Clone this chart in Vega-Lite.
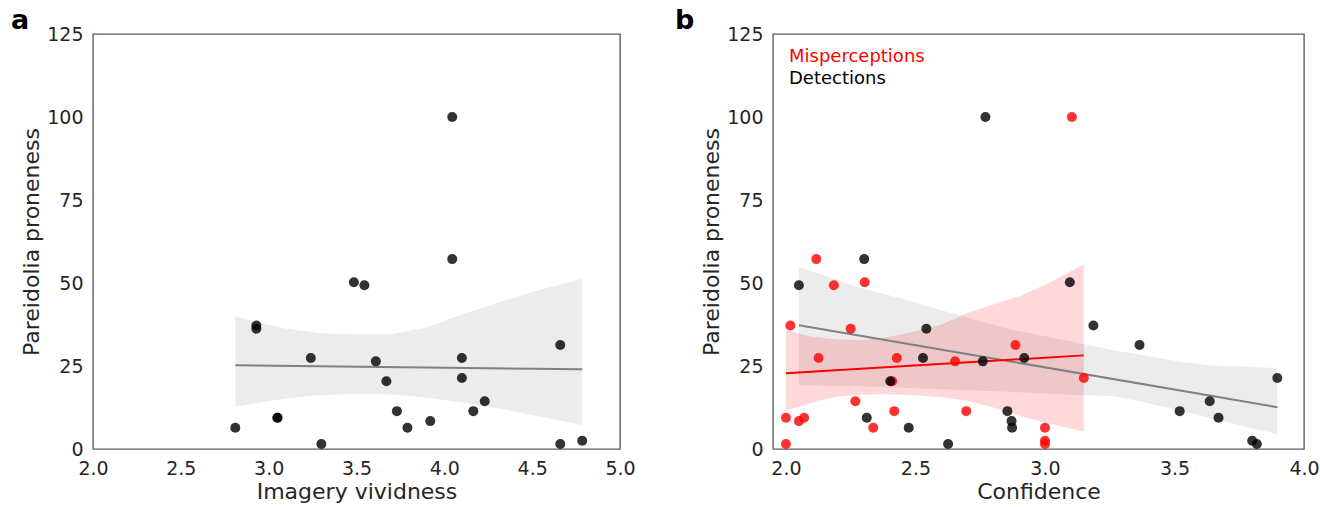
{
  "$schema": "https://vega.github.io/schema/vega-lite/v6.json",
  "background": "white",
  "padding": {"left": 10, "top": 6, "right": 0, "bottom": 0},
  "spacing": 38,
  "config": {
    "font": "DejaVu Sans",
    "view": {"stroke": "#5e5e5e", "strokeWidth": 1.4},
    "axis": {"grid": false, "ticks": false, "domain": false, "labelFontSize": 19, "labelColor": "#262626", "titleFontSize": 22, "titleFontWeight": "normal", "titleColor": "#262626", "labelPadding": 10, "titlePadding": 3, "labelFlush": false, "labelOverlap": false},
    "title": {"fontSize": 27, "fontWeight": "bold", "color": "#000000", "anchor": "start", "frame": "group"}
  },
  "datasets": {
    "a_points": [
      {"x": 2.81, "y": 6.4}, {"x": 2.93, "y": 37.2}, {"x": 2.93, "y": 36.2}, {"x": 3.05, "y": 9.4}, {"x": 3.05, "y": 9.4},
      {"x": 3.24, "y": 27.4}, {"x": 3.30, "y": 1.5}, {"x": 3.485, "y": 50.2}, {"x": 3.545, "y": 49.3}, {"x": 3.61, "y": 26.4},
      {"x": 3.67, "y": 20.4}, {"x": 3.73, "y": 11.4}, {"x": 3.79, "y": 6.4}, {"x": 3.92, "y": 8.4}, {"x": 4.045, "y": 57.2},
      {"x": 4.045, "y": 100}, {"x": 4.10, "y": 27.4}, {"x": 4.10, "y": 21.4}, {"x": 4.165, "y": 11.4}, {"x": 4.23, "y": 14.4},
      {"x": 4.66, "y": 31.3}, {"x": 4.66, "y": 1.5}, {"x": 4.785, "y": 2.5}
    ],
    "a_band": [
      {"x": 2.81, "lo": 12.8, "hi": 40.0}, {"x": 2.95, "lo": 14.0, "hi": 38.0}, {"x": 3.1, "lo": 15.3, "hi": 36.2},
      {"x": 3.3, "lo": 16.3, "hi": 34.9}, {"x": 3.5, "lo": 16.6, "hi": 34.5}, {"x": 3.7, "lo": 16.4, "hi": 34.6},
      {"x": 3.9, "lo": 15.5, "hi": 36.6}, {"x": 4.1, "lo": 14.0, "hi": 40.5}, {"x": 4.3, "lo": 12.3, "hi": 44.0},
      {"x": 4.5, "lo": 10.2, "hi": 47.3}, {"x": 4.785, "lo": 7.2, "hi": 51.3}
    ],
    "a_line": [{"x": 2.81, "y": 25.2}, {"x": 4.785, "y": 24.0}],
    "b_points": [
      {"type": "Misperceptions", "x": 2.0, "y": 1.5}, {"type": "Misperceptions", "x": 2.0, "y": 9.4},
      {"type": "Misperceptions", "x": 2.017, "y": 37.2}, {"type": "Misperceptions", "x": 2.05, "y": 8.4},
      {"type": "Misperceptions", "x": 2.07, "y": 9.4}, {"type": "Misperceptions", "x": 2.117, "y": 57.2},
      {"type": "Misperceptions", "x": 2.126, "y": 27.4}, {"type": "Misperceptions", "x": 2.185, "y": 49.3},
      {"type": "Misperceptions", "x": 2.25, "y": 36.2}, {"type": "Misperceptions", "x": 2.268, "y": 14.4},
      {"type": "Misperceptions", "x": 2.304, "y": 50.2}, {"type": "Misperceptions", "x": 2.337, "y": 6.4},
      {"type": "Misperceptions", "x": 2.41, "y": 20.4}, {"type": "Misperceptions", "x": 2.418, "y": 11.4},
      {"type": "Misperceptions", "x": 2.428, "y": 27.4}, {"type": "Misperceptions", "x": 2.653, "y": 26.4},
      {"type": "Misperceptions", "x": 2.696, "y": 11.4}, {"type": "Misperceptions", "x": 2.886, "y": 31.3},
      {"type": "Misperceptions", "x": 3.0, "y": 6.4}, {"type": "Misperceptions", "x": 3.0, "y": 2.5},
      {"type": "Misperceptions", "x": 3.0, "y": 1.5}, {"type": "Misperceptions", "x": 3.104, "y": 100},
      {"type": "Misperceptions", "x": 3.15, "y": 21.4},
      {"type": "Detections", "x": 2.05, "y": 49.3}, {"type": "Detections", "x": 2.302, "y": 57.2},
      {"type": "Detections", "x": 2.312, "y": 9.4}, {"type": "Detections", "x": 2.403, "y": 20.4},
      {"type": "Detections", "x": 2.474, "y": 6.4}, {"type": "Detections", "x": 2.529, "y": 27.4},
      {"type": "Detections", "x": 2.542, "y": 36.2}, {"type": "Detections", "x": 2.626, "y": 1.5},
      {"type": "Detections", "x": 2.76, "y": 26.4}, {"type": "Detections", "x": 2.77, "y": 100},
      {"type": "Detections", "x": 2.855, "y": 11.4}, {"type": "Detections", "x": 2.871, "y": 8.4},
      {"type": "Detections", "x": 2.873, "y": 6.4}, {"type": "Detections", "x": 2.92, "y": 27.4},
      {"type": "Detections", "x": 3.096, "y": 50.2}, {"type": "Detections", "x": 3.187, "y": 37.2},
      {"type": "Detections", "x": 3.365, "y": 31.3}, {"type": "Detections", "x": 3.52, "y": 11.4},
      {"type": "Detections", "x": 3.636, "y": 14.4}, {"type": "Detections", "x": 3.67, "y": 9.4},
      {"type": "Detections", "x": 3.8, "y": 2.5}, {"type": "Detections", "x": 3.818, "y": 1.5},
      {"type": "Detections", "x": 3.897, "y": 21.4}
    ],
    "b_gray_band": [
      {"x": 2.05, "lo": 19.2, "hi": 54.8}, {"x": 2.28, "lo": 18.9, "hi": 48.7}, {"x": 2.48, "lo": 18.4, "hi": 44.6},
      {"x": 2.68, "lo": 17.8, "hi": 40.0}, {"x": 2.875, "lo": 17.2, "hi": 35.9}, {"x": 3.07, "lo": 16.4, "hi": 32.9},
      {"x": 3.27, "lo": 15.9, "hi": 29.7}, {"x": 3.4, "lo": 13.8, "hi": 27.9}, {"x": 3.53, "lo": 11.4, "hi": 26.2},
      {"x": 3.66, "lo": 8.9, "hi": 25.0}, {"x": 3.79, "lo": 6.4, "hi": 24.8}, {"x": 3.897, "lo": 4.5, "hi": 24.3}
    ],
    "b_gray_line": [{"x": 2.05, "y": 37.3}, {"x": 3.897, "y": 12.6}],
    "b_red_band": [
      {"x": 2.0, "lo": 11.5, "hi": 36.0}, {"x": 2.1, "lo": 14.0, "hi": 33.8}, {"x": 2.2, "lo": 15.8, "hi": 33.0},
      {"x": 2.3, "lo": 16.4, "hi": 32.8}, {"x": 2.4, "lo": 16.5, "hi": 33.8}, {"x": 2.5, "lo": 16.2, "hi": 35.5},
      {"x": 2.6, "lo": 15.6, "hi": 37.5}, {"x": 2.7, "lo": 14.5, "hi": 41.0}, {"x": 2.8, "lo": 12.5, "hi": 43.5},
      {"x": 2.9, "lo": 10.0, "hi": 46.0}, {"x": 3.0, "lo": 8.0, "hi": 49.5}, {"x": 3.15, "lo": 5.2, "hi": 55.6}
    ],
    "b_red_line": [{"x": 2.0, "y": 22.8}, {"x": 3.15, "y": 28.2}]
  },
  "hconcat": [
    {
      "width": 527,
      "height": 415,
      "title": {"text": "a", "dx": -82, "offset": -10},
      "layer": [
        {
          "data": {"name": "a_band"},
          "mark": {"type": "area", "color": "#808080", "opacity": 0.15},
          "encoding": {
            "x": {"field": "x", "type": "quantitative", "scale": {"domain": [2, 5], "nice": false, "zero": false}, "axis": {"title": "Imagery vividness", "values": [2, 2.5, 3, 3.5, 4, 4.5, 5], "format": ".1f"}},
            "y": {"field": "lo", "type": "quantitative", "scale": {"domain": [0, 125], "nice": false, "zero": false}, "axis": {"title": "Pareidolia proneness", "values": [0, 25, 50, 75, 100, 125]}},
            "y2": {"field": "hi"}
          }
        },
        {
          "data": {"name": "a_line"},
          "mark": {"type": "line", "color": "#808080", "strokeWidth": 2},
          "encoding": {"x": {"field": "x", "type": "quantitative"}, "y": {"field": "y", "type": "quantitative"}}
        },
        {
          "data": {"name": "a_points"},
          "mark": {"type": "circle", "color": "#000000", "opacity": 0.8, "size": 100},
          "encoding": {"x": {"field": "x", "type": "quantitative"}, "y": {"field": "y", "type": "quantitative"}}
        }
      ]
    },
    {
      "width": 531,
      "height": 415,
      "title": {"text": "b", "dx": -98, "offset": -10},
      "layer": [
        {
          "data": {"name": "b_gray_band"},
          "mark": {"type": "area", "color": "#808080", "opacity": 0.15},
          "encoding": {
            "x": {"field": "x", "type": "quantitative", "scale": {"domain": [1.95, 4], "nice": false, "zero": false}, "axis": {"title": "Confidence", "values": [2, 2.5, 3, 3.5, 4], "format": ".1f"}},
            "y": {"field": "lo", "type": "quantitative", "scale": {"domain": [0, 125], "nice": false, "zero": false}, "axis": {"title": "Pareidolia proneness", "values": [0, 25, 50, 75, 100, 125]}},
            "y2": {"field": "hi"}
          }
        },
        {
          "data": {"name": "b_red_band"},
          "mark": {"type": "area", "color": "#ff0000", "opacity": 0.15},
          "encoding": {"x": {"field": "x", "type": "quantitative"}, "y": {"field": "lo", "type": "quantitative"}, "y2": {"field": "hi"}}
        },
        {
          "data": {"name": "b_gray_line"},
          "mark": {"type": "line", "color": "#808080", "strokeWidth": 2},
          "encoding": {"x": {"field": "x", "type": "quantitative"}, "y": {"field": "y", "type": "quantitative"}}
        },
        {
          "data": {"name": "b_red_line"},
          "mark": {"type": "line", "color": "#ff0000", "strokeWidth": 2},
          "encoding": {"x": {"field": "x", "type": "quantitative"}, "y": {"field": "y", "type": "quantitative"}}
        },
        {
          "data": {"name": "b_points"},
          "mark": {"type": "circle", "opacity": 0.8, "size": 100},
          "encoding": {
            "x": {"field": "x", "type": "quantitative"},
            "y": {"field": "y", "type": "quantitative"},
            "color": {
              "field": "type", "type": "nominal",
              "scale": {"domain": ["Misperceptions", "Detections"], "range": ["#ff0000", "#000000"]},
              "legend": {
                "title": null, "orient": "none", "legendX": 678, "legendY": 14, "padding": 0,
                "symbolSize": 0, "symbolOpacity": 0, "symbolStrokeWidth": 0, "labelOffset": 0,
                "labelFontSize": 18, "rowPadding": 4,
                "encode": {"labels": {"update": {"fill": {"signal": "datum.value === 'Misperceptions' ? '#ff0000' : '#000000'"}}}}
              }
            }
          }
        }
      ]
    }
  ]
}
